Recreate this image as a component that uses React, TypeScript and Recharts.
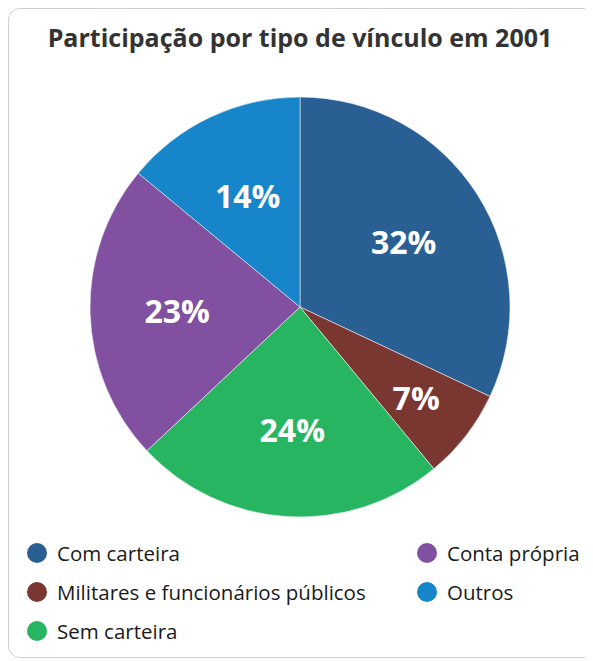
import React from "react";
import { PieChart, Pie, Cell } from "recharts";

const categories = [
  "Com carteira",
  "Militares e funcionários públicos",
  "Sem carteira",
  "Conta própria",
  "Outros",
];
const shares = [32, 7, 24, 23, 14];
const colors = ["#2a5f93", "#7a3631", "#27b562", "#8250a0", "#1685c9"];
const title = "Participação por tipo de vínculo em 2001";

const data = categories.map((name, i) => ({ name, value: shares[i] }));

const RADIAN = Math.PI / 180;

const renderLabel = (props: any) => {
  const { cx, cy, midAngle, outerRadius, value } = props;
  // small slices get their label pushed a little further out
  const r = outerRadius * (value < 10 ? 0.7 : 0.585);
  const x = cx + r * Math.cos(-midAngle * RADIAN);
  const y = cy + r * Math.sin(-midAngle * RADIAN);
  return (
    <text
      x={x}
      y={y}
      fill="#ffffff"
      textAnchor="middle"
      dominantBaseline="central"
      style={{ fontFamily: "Open Sans", fontWeight: 700, fontSize: 32 }}
    >
      {`${value}%`}
    </text>
  );
};

export default function App() {
  const col1 = [0, 1, 2];
  const col2 = [3, 4];

  const legendItem = (i: number) => (
    <div
      key={categories[i]}
      style={{ display: "flex", alignItems: "center", height: 39 }}
    >
      <span
        style={{
          width: 20,
          height: 20,
          borderRadius: "50%",
          background: colors[i],
          display: "inline-block",
          marginRight: 10,
          flexShrink: 0,
        }}
      />
      <span style={{ fontSize: 20.5, color: "#1a1a1a", whiteSpace: "nowrap" }}>
        {categories[i]}
      </span>
    </div>
  );

  return (
    <div
      style={{
        position: "relative",
        width: 600,
        height: 648,
        border: "1.5px solid #cfcfcf",
        borderRadius: 12,
        background: "#fff",
        fontFamily: "Open Sans",
      }}
    >
      <div
        style={{
          position: "absolute",
          top: 11,
          left: 0,
          width: 582,
          textAlign: "center",
          fontSize: 25,
          fontWeight: 700,
          color: "#333333",
          whiteSpace: "nowrap",
        }}
      >
        {title}
      </div>
      <div style={{ position: "absolute", top: 0, left: 0 }}>
        <PieChart width={600} height={530}>
          <Pie
            data={data}
            dataKey="value"
            nameKey="name"
            cx={286}
            cy={293}
            outerRadius={210}
            startAngle={90}
            endAngle={-270}
            stroke="#ffffff"
            strokeOpacity={0.5}
            strokeWidth={1}
            label={renderLabel}
            labelLine={false}
            isAnimationActive={false}
          >
            {data.map((d, i) => (
              <Cell key={d.name} fill={colors[i]} />
            ))}
          </Pie>
        </PieChart>
      </div>
      <div style={{ position: "absolute", top: 524, left: 18 }}>
        {col1.map(legendItem)}
      </div>
      <div style={{ position: "absolute", top: 524, left: 408 }}>
        {col2.map(legendItem)}
      </div>
    </div>
  );
}
